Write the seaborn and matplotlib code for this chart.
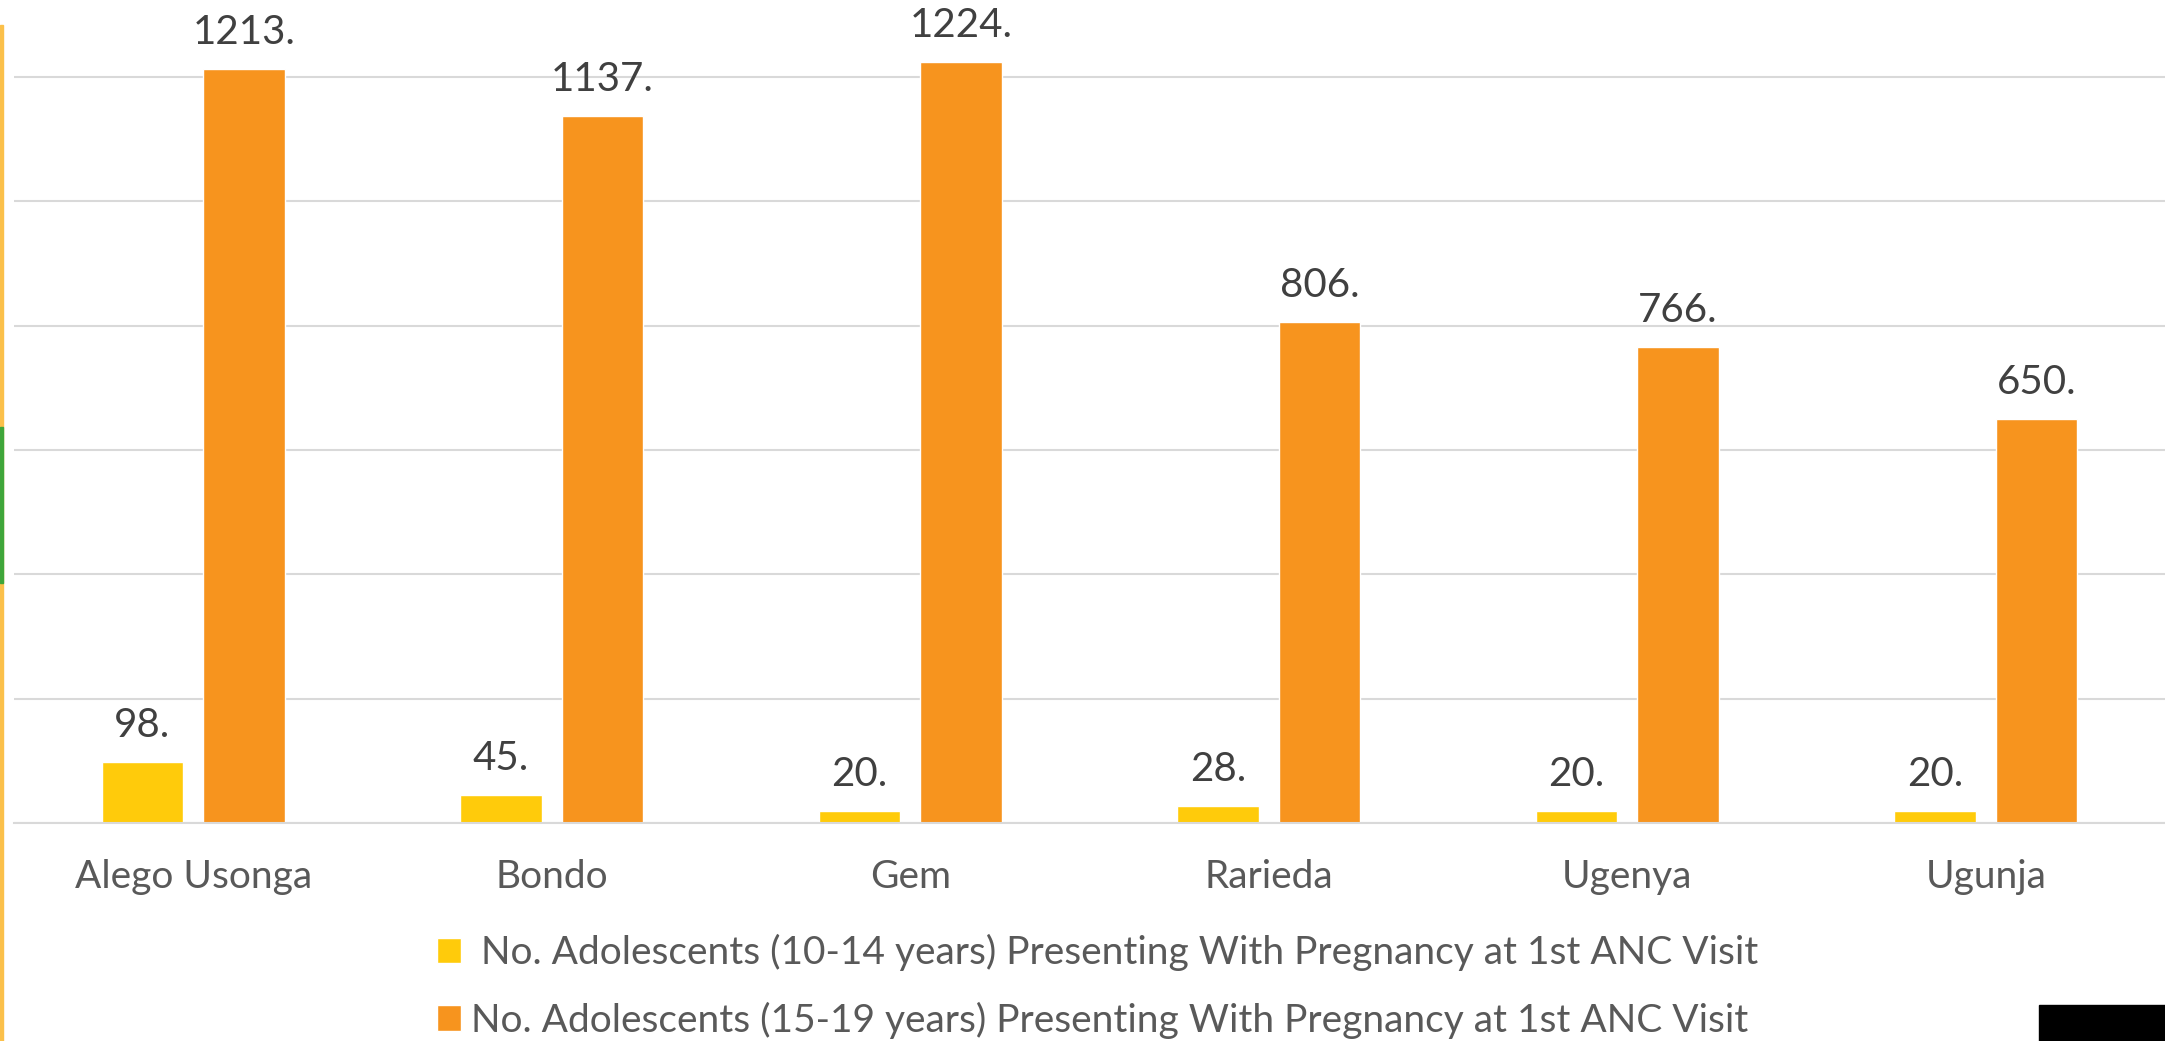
import numpy as np
import pandas as pd
import matplotlib
matplotlib.use('Agg')
import matplotlib.pyplot as plt
from matplotlib.patches import Rectangle
import seaborn as sns

sub_counties = ['Alego Usonga', 'Bondo', 'Gem', 'Rarieda', 'Ugenya', 'Ugunja']
young_10_14 = [98, 45, 20, 28, 20, 20]
older_15_19 = [1213, 1137, 1224, 806, 766, 650]
series_names = [' No. Adolescents (10-14 years) Presenting With Pregnancy at 1st ANC Visit',
                'No. Adolescents (15-19 years) Presenting With Pregnancy at 1st ANC Visit']
colors = ['#FFCB0B', '#F7941E']

df = pd.DataFrame({
    'sub_county': sub_counties * 2,
    'count': young_10_14 + older_15_19,
    'group': [series_names[0]] * len(sub_counties) + [series_names[1]] * len(sub_counties),
})

sns.set_theme(style='white')
plt.rcParams['font.family'] = ['Lato', 'DejaVu Sans']

W, H = 2165, 1041
fig = plt.figure(figsize=(W / 100, H / 100), dpi=100)
ax = fig.add_axes([14 / W, (H - 823) / H, (W - 14) / W, 823 / H])

sns.barplot(data=df, x='sub_county', y='count', hue='group', palette=colors,
            width=0.568, gap=0.2, ax=ax, saturation=1)

ax.set_xlim(-0.5, 5.5)
ax.set_ylim(0, 1200 * 823 / 746)
ax.set_yticks(np.arange(0, 1201, 200))
ax.yaxis.grid(True, color='#D9D9D9', linewidth=1.5)
ax.set_axisbelow(True)
ax.tick_params(axis='y', left=False, labelleft=False)
ax.tick_params(axis='x', bottom=False, labelsize=28, colors='#595959', pad=20)
ax.set_xlabel('')
ax.set_ylabel('')
for s in ['top', 'right', 'left']:
    ax.spines[s].set_visible(False)
ax.spines['bottom'].set_color('#D9D9D9')
ax.spines['bottom'].set_linewidth(1.5)

for cont in ax.containers:
    ax.bar_label(cont, labels=[f'{int(v)}.' for v in cont.datavalues],
                 padding=13, fontsize=29, color='#404040', clip_on=False)

handles, labels = ax.get_legend_handles_labels()
ax.legend(handles, labels, loc='upper left', bbox_to_anchor=(437 / W, 1 - 934 / H),
          bbox_transform=fig.transFigure, frameon=False, fontsize=28,
          handlelength=0.62, handleheight=0.62, handletextpad=0.26,
          labelspacing=0.78, borderpad=0, borderaxespad=0, labelcolor='#595959')

# slide decorations around the crop
fig.patches.append(Rectangle((2039 / W, 0), (W - 2039) / W, 36 / H,
                             transform=fig.transFigure, color='black', zorder=5))
fig.patches.append(Rectangle((0, 0), 3 / W, 1 - 25 / H,
                             transform=fig.transFigure, color='#FBC04A', zorder=5))
fig.patches.append(Rectangle((0, 0.44), 3 / W, 0.15,
                             transform=fig.transFigure, color='#3FA63A', zorder=6))

fig.savefig('out.png', dpi=100)
